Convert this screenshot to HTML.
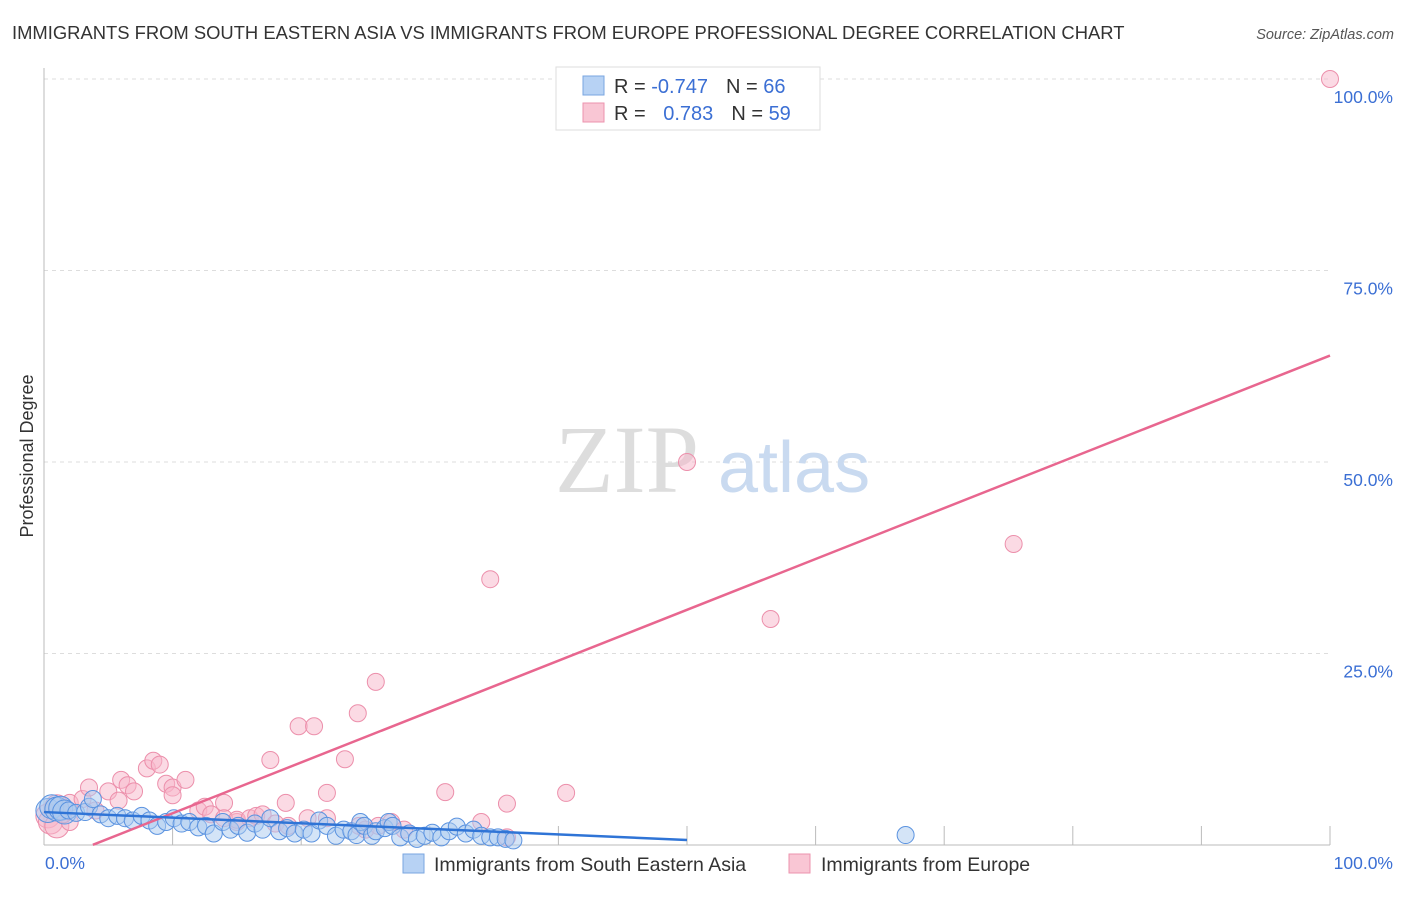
<!DOCTYPE html>
<html><head><meta charset="utf-8"><style>
body{margin:0;background:#fff;font-family:"Liberation Sans",sans-serif;}
</style></head><body>
<svg id="chart" width="1406" height="892" xmlns="http://www.w3.org/2000/svg">
<text x="12" y="39" font-size="18.4" fill="#333">IMMIGRANTS FROM SOUTH EASTERN ASIA VS IMMIGRANTS FROM EUROPE PROFESSIONAL DEGREE CORRELATION CHART</text>
<text x="1394" y="39" font-size="14.5" fill="#555" font-style="italic" text-anchor="end">Source: ZipAtlas.com</text>
<g id="grid"></g>
<line x1="44" y1="68" x2="44" y2="845" stroke="#bbb"/>
<line x1="44" y1="845" x2="1330" y2="845" stroke="#bbb"/>
<text x="33" y="456" font-size="18" fill="#333" text-anchor="middle" transform="rotate(-90 33 456)">Professional Degree</text>
<text x="555" y="492" font-size="96" fill="#ddd" font-family="Liberation Serif,serif">ZIP</text>
<text x="718" y="492" font-size="72" fill="#c9daf0">atlas</text>
<g id="marks"></g>
<g>
<rect x="556" y="67" width="264" height="63" fill="#fff" stroke="#ddd"/>
<rect x="583" y="76" width="21" height="19" fill="#b7d2f4" stroke="#7aa6e0"/>
<rect x="583" y="103" width="21" height="19" fill="#f9c6d4" stroke="#ec93ae"/>
<text x="614" y="93" font-size="20" fill="#333">R = <tspan fill="#3b6fd4">-0.747</tspan><tspan dx="18" fill="#333">N = </tspan><tspan fill="#3b6fd4">66</tspan></text>
<text x="614" y="120" font-size="20" fill="#333">R = <tspan dx="12" fill="#3b6fd4">0.783</tspan><tspan dx="18" fill="#333">N = </tspan><tspan fill="#3b6fd4">59</tspan></text>
</g>
<g>
<rect x="403" y="854" width="21" height="19" fill="#b7d2f4" stroke="#7aa6e0"/>
<text x="434" y="871" font-size="19.5" fill="#333">Immigrants from South Eastern Asia</text>
<rect x="789" y="854" width="21" height="19" fill="#f9c6d4" stroke="#ec93ae"/>
<text x="821" y="871" font-size="19.5" fill="#333">Immigrants from Europe</text>
</g>
<text x="45" y="869" font-size="17.5" fill="#3b6fd4">0.0%</text>
<text x="1393" y="869" font-size="17.5" fill="#3b6fd4" text-anchor="end">100.0%</text>
</svg>
<script>
const yTicks=[25,50,75,100];
const yTickLabels=["25.0%","50.0%","75.0%","100.0%"];
const xTicks=[10,20,30,40,50,60,70,80,90,100];
const blueX=[0.3,0.6,1,1.3,1.6,1.9,2.5,3.2,3.5,3.8,4.4,5,5.7,6.3,6.9,7.6,8.2,8.8,9.5,10.1,10.7,11.3,12,12.6,13.2,13.9,14.5,15.1,15.8,16.4,17,17.6,18.3,18.9,19.5,20.2,20.8,21.4,22,22.7,23.3,23.9,24.3,24.6,24.9,25.5,25.8,26.5,26.8,27.1,27.7,28.4,29,29.6,30.2,30.9,31.5,32.1,32.8,33.4,34,34.7,35.3,35.9,36.5,67];
const blueY=[4.5,5,4.7,4.8,4.3,4.5,4.2,4.3,5,6,4,3.5,3.8,3.5,3.2,3.8,3.2,2.5,3,3.5,2.8,3,2.3,2.5,1.5,3,2,2.5,1.6,2.8,2,3.5,1.8,2.2,1.5,2,1.5,3.2,2.5,1.2,2,1.8,1.3,3,2.5,1.2,1.8,2.2,3,2.5,1,1.5,0.8,1.2,1.6,1,1.8,2.4,1.5,2,1.2,1,1,0.8,0.6,1.3];
const pinkX=[0.3,0.5,1,1,2,2,3,3.5,4,5,5.8,6,6.5,7,8,8.5,9,9.5,10,10,11,12,12.5,13,14,14,15,15,16,16.5,17,17.6,18,18.8,19,19.8,20.5,21,22,22,23.4,24.4,24.5,25,25.8,26,27,28,31.2,34,34.7,36,36,40.6,50,56.5,75.4,100,1.5];
const pinkY=[3.8,3,2.5,5,5.5,3,6,7.5,4.5,7,5.8,8.5,7.8,7,10,11,10.5,8,7.5,6.5,8.5,4.5,5,4,5.5,3.5,3,3.3,3.5,3.8,4,11.1,2.8,5.5,2.5,15.5,3.5,15.5,6.8,3.5,11.2,17.2,2.5,2,21.3,2.5,3,2,6.9,3,34.7,1,5.4,6.8,50,29.5,39.3,100,4];
const blueLine=[4.3,-0.073];
const pinkLine=[-2.5,0.664];
const X=v=>44+v*12.86, Y=v=>845-v*7.66;
const ns="http://www.w3.org/2000/svg";
const grid=document.getElementById('grid'),marks=document.getElementById('marks'),svg=document.getElementById('chart');
yTicks.forEach((t,i)=>{
 const l=document.createElementNS(ns,'line');
 l.setAttribute('x1',44);l.setAttribute('x2',1330);l.setAttribute('y1',Y(t));l.setAttribute('y2',Y(t));
 l.setAttribute('stroke','#ddd');l.setAttribute('stroke-dasharray','4 4');
 
 
 grid.appendChild(l);
 const tx=document.createElementNS(ns,'text');
 tx.setAttribute('x',1393);tx.setAttribute('y',Y(t)+24);tx.setAttribute('text-anchor','end');
 tx.setAttribute('font-size','17.5');tx.setAttribute('fill','#3b6fd4');tx.textContent=yTickLabels[i];
 
 
 svg.appendChild(tx);
});
xTicks.forEach(t=>{
 const l=document.createElementNS(ns,'line');
 l.setAttribute('x1',X(t));l.setAttribute('x2',X(t));l.setAttribute('y1',826);l.setAttribute('y2',845);
 l.setAttribute('stroke','#bbb');
 
 
 grid.appendChild(l);
});
function dot(x,y,fill,stroke,name,r){
 const c=document.createElementNS(ns,'circle');
 c.setAttribute('cx',X(x));c.setAttribute('cy',Y(y));c.setAttribute('r',r);
 c.setAttribute('fill',fill);c.setAttribute('stroke',stroke);c.setAttribute('fill-opacity','0.5');
 
 
 marks.appendChild(c);
}
pinkX.forEach((x,i)=>dot(x,pinkY[i],'#f7b6c9','#ec8fab','pink-point',x<1.2?12:8.5));
blueX.forEach((x,i)=>dot(x,blueY[i],'#a9c9f0','#5b93e0','blue-point',x<1.7?12:8.5));
function line(a,b,x0,x1,col,name){
 const l=document.createElementNS(ns,'line');
 l.setAttribute('x1',X(x0));l.setAttribute('x2',X(x1));l.setAttribute('y1',Y(a+b*x0));l.setAttribute('y2',Y(a+b*x1));
 l.setAttribute('stroke',col);l.setAttribute('stroke-width','2.5');
 
 
 marks.appendChild(l);
}
line(pinkLine[0],pinkLine[1],3.8,100,'#e8668f','pink-trendline');
line(blueLine[0],blueLine[1],0,50,'#2f74d6','blue-trendline');
</script>
</body></html>
